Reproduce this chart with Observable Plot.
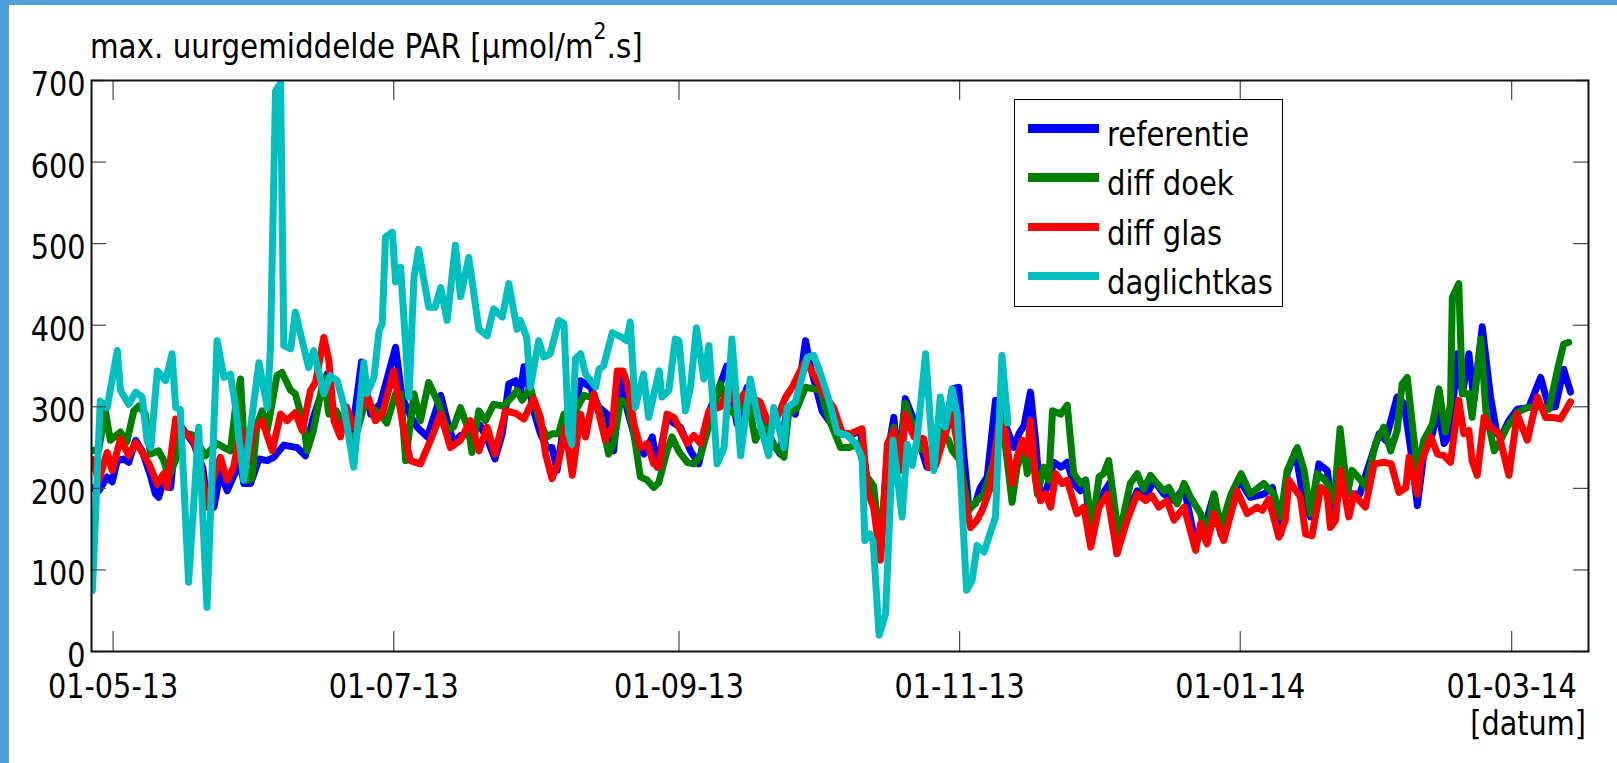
<!DOCTYPE html>
<html>
<head>
<meta charset="utf-8">
<script src="https://cdn.jsdelivr.net/npm/d3@7"></script>
<script src="https://cdn.jsdelivr.net/npm/@observablehq/plot@0.6"></script>
<style>
html,body{margin:0;padding:0;background:#fff;width:1617px;height:763px;overflow:hidden;font-family:"DejaVu Sans",sans-serif;}
#wrap{position:relative;width:1617px;height:763px;background:#fff;}
#chart{position:absolute;left:0;top:0;}
.bt{position:absolute;left:0;top:0;width:1617px;height:5px;background:#519fda;z-index:5;}
.bl{position:absolute;left:0;top:0;width:9px;height:763px;background:#519fda;z-index:5;}
.txt{position:absolute;white-space:nowrap;font-size:33px;line-height:33px;color:#000;}
#title{left:90px;top:30px;transform:scaleX(0.89);transform-origin:left top;}
#title .sup{font-size:23px;line-height:0;vertical-align:19px;}
#xlab{right:31px;top:707px;transform:scaleX(0.87);transform-origin:right top;}
#legend{position:absolute;left:1014px;top:99px;width:269px;height:208px;box-sizing:border-box;border:1.5px solid #000;background:#fff;z-index:3;}
.lrow{position:absolute;left:0;width:100%;height:49px;}
.lsw{position:absolute;left:13px;width:71px;height:8.5px;top:24px;}
.ltx{position:absolute;left:92px;top:18px;font-size:33px;line-height:33px;white-space:nowrap;transform:scaleX(0.88);transform-origin:left top;}
</style>
</head>
<body>
<div id="wrap">
  <div class="bt"></div><div class="bl"></div>
  <div id="chart"></div>
  <div id="title" class="txt">max. uurgemiddelde PAR [μmol/m<span class="sup">2</span>.s]</div>
  <div id="xlab" class="txt">[datum]</div>
  <div id="legend"></div>
</div>
<script>
// ---- data (day offsets from 01-05-2013, value) ----
const startDay = Date.UTC(2013, 4, 1);
const seriesNames = ["referentie", "diff doek", "diff glas", "daglichtkas"];
const seriesColors = ["#0000ff", "#008000", "#ff0000", "#00bfbf"];
const yTicks = [0, 100, 200, 300, 400, 500, 600, 700];
const xTickLabels = ["2013-05-01", "2013-07-01", "2013-09-01", "2013-11-01", "2014-01-01", "2014-03-01"];
const xRangeDays = [-4.7, 320.7];

const referentie = [[-4.6,201],[-3.1,197],[-1.3,214],[-0.2,208],[0.9,234],[2.3,236],[3.4,232],[4.9,259],[6.3,246],[8.1,216],[9.2,193],[9.9,189],[11,210],[12.5,201],[13.9,283],[15.5,270],[17.5,255],[19.5,225],[20.5,180],[21.9,177],[23.3,220],[24.8,197],[26.2,215],[27.7,230],[28.4,206],[29.9,206],[31.7,236],[33.5,234],[34.9,238],[37.1,253],[40,250],[41.8,240],[43.3,283],[45,312],[46.5,340],[48,290],[50,275],[52,270],[54,355],[56,291],[58.1,304],[61.4,373],[62.8,312],[64.5,290],[66.1,275],[68.3,263],[71.2,314],[72.6,283],[74.1,255],[75.5,265],[77.7,267],[79.8,277],[81.7,255],[83,236],[84.6,267],[86,328],[87.5,332],[88.5,316],[89.3,349],[90.4,324],[91.4,295],[92.9,267],[94.3,250],[95.4,250],[96.5,222],[98,279],[99.4,267],[101.6,332],[103.8,324],[105.5,300],[107.4,291],[108.8,246],[110.3,336],[111.8,295],[113.5,260],[115.4,242],[117.2,263],[118.3,226],[120.4,287],[121.8,280],[123.3,275],[125.5,246],[127.3,230],[129.9,299],[131.5,320],[133.4,350],[135.6,279],[137.8,324],[140.7,283],[142.9,259],[145,242],[146.5,299],[148.3,291],[150.5,381],[151.6,349],[154.1,295],[155.6,283],[158.1,267],[160.3,265],[162.4,271],[163.9,210],[165.3,185],[166.8,115],[168.3,240],[169.7,287],[170.8,226],[172.2,310],[174.1,283],[175.1,259],[176.9,226],[178.5,226],[180,259],[181.3,283],[182.4,322],[183.8,324],[184.9,242],[186,177],[187.4,181],[188.5,201],[190,214],[191.8,308],[193.6,283],[195.8,250],[196.9,267],[198,277],[199.4,318],[200.5,259],[201.6,185],[203,201],[204.5,232],[206,226],[207.4,232],[208.8,206],[210.3,197],[211.4,210],[212.5,132],[214.6,189],[216.8,208],[218.2,120],[220.4,169],[222.6,197],[224.8,193],[226.2,210],[228.4,193],[230.6,185],[232.8,201],[235.3,132],[237.5,157],[239.3,193],[240.8,144],[243,185],[244.8,210],[247.2,189],[250.1,193],[252,201],[253.8,144],[255.2,218],[257,246],[258.9,181],[260.3,165],[262.1,230],[263.9,222],[265.4,161],[266.8,218],[268.6,193],[271,193],[272.6,222],[275.2,267],[276.6,259],[279.1,312],[280.6,304],[282,250],[283.5,179],[284.9,242],[286.8,267],[287.9,299],[289.3,255],[290.7,267],[292.2,365],[293.3,316],[294.7,365],[295.8,308],[297.6,398],[299.4,312],[300.8,267],[302,267],[303.4,283],[305.2,297],[307.7,299],[310.3,336],[312.1,299],[313.5,300],[315.3,346],[316.8,318]];

const diffDoek = [[-4.6,246],[-3.1,248],[-1.7,295],[-0.6,259],[1.6,269],[3,257],[4.5,295],[5.6,301],[7,291],[8.1,242],[9.9,246],[11,234],[12.1,214],[13.6,235],[14.6,270],[17.5,265],[20,240],[22.6,255],[24.1,250],[25.5,246],[26.6,300],[27.7,334],[28.6,240],[29.1,210],[30.2,212],[31.3,279],[32.4,295],[33.5,271],[35.6,338],[36.7,342],[38.6,320],[39.6,316],[41.4,279],[42.2,246],[43.5,270],[45.8,336],[46.9,291],[48.5,295],[50.9,271],[52.3,255],[54.5,300],[56,301],[58.1,290],[59.5,280],[61.4,316],[62.5,316],[63.6,234],[65.4,316],[66.8,283],[68.6,330],[70.8,303],[72.6,271],[74,275],[75.5,299],[77.3,271],[78,244],[79.5,295],[80.9,283],[82.7,303],[84.9,301],[86.7,312],[87.8,320],[88.9,308],[90.7,324],[91.8,300],[92.9,279],[94.3,263],[95.4,267],[96.8,267],[98,291],[99.4,275],[100.9,299],[102.3,314],[103.8,312],[105.6,299],[106.6,271],[107.7,242],[108.8,255],[110.3,308],[111.8,304],[113.2,267],[114.6,214],[116.1,210],[117.5,201],[118.6,207],[120.4,246],[121.5,263],[123,245],[124.8,232],[126.2,230],[127.7,240],[129.8,283],[132,328],[133.5,300],[135,291],[136.5,300],[137.8,316],[139.6,259],[141.5,279],[144,250],[145.8,238],[146.8,291],[148.7,299],[150.5,324],[152.3,322],[153.8,320],[155.2,291],[158.1,250],[160,250],[161.8,255],[163.9,214],[165.3,203],[166.8,128],[168.3,242],[169.7,275],[170.8,226],[172.2,304],[173.7,279],[175.5,248],[177.3,246],[178.5,250],[179.8,271],[181.6,259],[182.4,246],[184,235],[186,173],[187.8,185],[189.3,193],[191.4,234],[192.9,287],[194,250],[195.4,183],[196.5,226],[198,250],[198.7,218],[199.8,250],[200.9,193],[202.3,226],[203.4,210],[204.2,295],[206,291],[207.4,302],[208.8,218],[210.3,206],[211.4,210],[212.8,152],[214.3,214],[215.3,218],[216.4,234],[218.6,140],[221.1,206],[222.6,218],[224,199],[225.5,216],[226.9,206],[228.4,197],[229.5,201],[231.3,181],[232.8,206],[234.2,189],[236.4,169],[237.5,136],[239.3,193],[240.8,152],[243,193],[245.2,218],[247.2,193],[250.1,206],[252.3,193],[253.8,165],[255.2,222],[257.4,250],[258.9,222],[260.3,169],[261.7,218],[263.5,210],[265.4,185],[266.7,273],[268.3,193],[269.3,222],[271.2,210],[272.3,201],[274.4,255],[276.2,275],[277.7,246],[279.1,271],[280.2,328],[281.3,336],[283.5,222],[284.9,259],[286.8,279],[288.2,322],[289.6,269],[290.7,304],[291.1,434],[292.5,451],[293.3,316],[294.7,316],[295.4,287],[297.3,383],[298.4,295],[300.2,246],[301.6,259],[303,275],[305.2,293],[307.4,299],[310,300],[312.1,297],[313.9,344],[315.3,377],[316.4,379]];

const diffGlas = [[-4.6,236],[-3.1,210],[-1.3,244],[-0.2,222],[1.6,261],[3.4,240],[4.9,256],[5.9,248],[7.8,230],[9.6,205],[11,218],[11.7,201],[13.6,285],[14.6,273],[17.5,259],[19,230],[20.4,177],[21.9,214],[23.3,238],[24.8,210],[26.2,226],[27.7,271],[29.1,230],[30.6,271],[32.4,283],[34.6,246],[36.4,291],[37.8,283],[39.6,293],[41.1,271],[42.9,320],[44,330],[45.8,385],[46.9,357],[48,283],[49.4,263],[50.7,300],[52.3,275],[55.2,316],[57,283],[58.5,291],[61,344],[63.2,271],[64.6,234],[66.8,230],[69,259],[71.2,291],[73.3,250],[75.5,259],[77.7,283],[79.5,246],[81.3,275],[83,242],[85.3,295],[87.5,292],[89.3,285],[91.4,310],[92.9,287],[94,242],[95.4,212],[96.9,234],[98.3,275],[99.8,216],[101.6,291],[102.7,263],[104.5,316],[107,259],[108.5,275],[109.6,344],[110.8,344],[111.8,328],[113.2,279],[114.6,250],[116.1,255],[117.5,230],[118.6,226],[120.4,291],[121.9,287],[124.8,255],[126.2,265],[127.7,255],[129.5,295],[132,300],[134,325],[135.5,300],[137.1,316],[140.6,306],[142.2,283],[143.6,277],[146.2,312],[147.6,324],[150.5,357],[153,332],[154.5,316],[156.6,299],[158.5,268],[160.3,267],[162.8,273],[163.9,197],[165.3,177],[166.8,112],[168.3,255],[169.7,271],[171.2,222],[172.2,291],[174.1,263],[176.2,261],[177.3,226],[178.8,228],[180.6,263],[182.4,291],[183.5,255],[184.9,193],[186.4,152],[187.8,161],[188.9,173],[190.7,201],[192.5,279],[193.9,271],[195.4,206],[196.5,238],[197.6,259],[198.7,242],[199.4,283],[200.5,210],[201.6,185],[202.7,193],[203.8,177],[204.9,218],[206.3,206],[207.4,210],[209.5,169],[211,177],[212.5,128],[214.3,177],[216.1,193],[218.2,120],[220.4,161],[222.6,193],[224.4,185],[225.8,191],[227.3,177],[229.1,185],[230.6,161],[232.8,177],[235.3,124],[236.4,157],[237.8,132],[239.3,169],[241.4,136],[244.3,197],[246.5,169],[248.7,177],[249.8,173],[251.2,187],[253.4,140],[254.8,161],[255.6,210],[258.1,189],[259.2,144],[260.6,142],[262.5,201],[263.9,193],[264.6,152],[265.7,161],[266.8,222],[268.6,165],[269.7,193],[272.2,177],[274.1,230],[276.2,232],[277.8,230],[279.5,195],[281,201],[281.7,238],[283.5,193],[284.2,230],[286.4,263],[287.9,242],[289.3,240],[290.7,232],[292.5,308],[293.6,267],[294.7,271],[295.4,234],[296.5,216],[298,287],[299.4,275],[301.2,267],[303.4,216],[305.2,291],[307.4,259],[309.6,312],[311.4,287],[313,287],[314.6,285],[316.8,306]];

const daglichtkas = [[-4.5,75],[-2.8,307],[-1.3,299],[0.9,369],[1.6,320],[3.4,303],[4.9,318],[6.3,312],[7.4,258],[8.2,250],[9.6,344],[11.4,332],[12.8,365],[13.6,299],[14.6,297],[16.4,85],[18.6,275],[20.4,54],[22.6,381],[24.1,336],[25.5,340],[26.6,300],[28.4,210],[31.7,354],[33.5,299],[34.2,373],[35.3,687],[36.4,697],[37.1,375],[38.6,371],[39.6,416],[41.1,381],[42.5,348],[43.6,369],[45.8,316],[47.2,338],[48.7,332],[50.1,303],[52.3,226],[54.5,354],[55.2,316],[56.7,336],[57.8,393],[58.5,402],[59.2,508],[60.7,514],[61.4,453],[62.5,471],[64.3,312],[65.4,459],[66.4,493],[68.6,422],[70,422],[71.2,446],[72.6,406],[74.4,498],[75.5,435],[77.3,483],[79.5,395],[81.3,387],[82.7,420],[84.6,410],[86,451],[87.8,395],[88.5,406],[89.9,385],[90.7,324],[92.5,381],[93.6,361],[95,365],[96.9,406],[98,402],[99,267],[99.7,254],[100.5,359],[101.6,365],[102.7,340],[104.9,324],[105.6,346],[106.6,350],[108.5,391],[110.6,385],[111.6,381],[112.4,404],[113.5,299],[115.3,340],[116.4,287],[118.7,344],[119.3,312],[120.8,320],[122.2,383],[123,381],[124.4,295],[125.5,324],[126.8,397],[128.4,334],[129.5,375],[131.3,230],[132.8,250],[134.5,383],[136.4,240],[138.5,334],[140,291],[142.5,240],[143.6,299],[145.8,250],[146.5,299],[148.3,306],[150.9,361],[152.3,363],[153.8,340],[155.6,308],[157.4,269],[159.6,265],[161.4,255],[162.8,238],[163.4,136],[164.5,144],[165.2,135],[166.5,20],[167.9,46],[169.5,259],[171.5,165],[172.6,254],[173.7,228],[174.8,263],[176.6,365],[178.4,222],[179.8,312],[180.9,275],[182.4,322],[183.5,290],[185.5,75],[186.7,87],[187.8,130],[189.3,122],[191.8,165],[193.2,363],[194.5,280]];

// ---- build ----
const toDate = d => new Date(startDay + d * 864e5);
const seriesData = [referentie, diffDoek, diffGlas, daglichtkas];
const rows = seriesData.flatMap((arr, i) => arr.map(([d, v]) => ({date: toDate(d), value: v, series: seriesNames[i]})));
const xTicks = xTickLabels.map(s => new Date(s + "T00:00:00Z"));
const tickStyle = {stroke: "#4a4a4a", strokeWidth: 1.2};

const plotW = 1617, plotH = 763;
const mL = 91, mR = 29, mT = 80, mB = 112;
const innerW = plotW - mL - mR, innerH = plotH - mT - mB;

const svg = Plot.plot({
  width: plotW, height: plotH,
  marginLeft: mL, marginRight: mR, marginTop: mT, marginBottom: mB,
  style: {fontFamily: "DejaVu Sans", fontSize: "33px", color: "#000", background: "transparent", overflow: "visible"},
  x: {type: "utc", domain: xRangeDays.map(toDate)},
  y: {domain: [0, 700]},
  color: {domain: seriesNames, range: seriesColors},
  marks: [
    Plot.line(rows, {x: "date", y: "value", z: "series", stroke: "series", strokeWidth: 7, strokeLinejoin: "round", strokeLinecap: "round", clip: true}),
    Plot.tickX(xTicks, {x: d => d, insetTop: innerH - 20, ...tickStyle}),
    Plot.tickX(xTicks, {x: d => d, insetBottom: innerH - 20, ...tickStyle}),
    Plot.tickY(yTicks, {y: d => d, insetRight: innerW - 15, ...tickStyle}),
    Plot.tickY(yTicks, {y: d => d, insetLeft: innerW - 15, ...tickStyle}),
    Plot.frame({stroke: "#111", strokeWidth: 2}),
    Plot.axisX(xTicks, {tickFormat: d3.utcFormat("%d-%m-%y"), tickSize: 0, tickPadding: 23, label: null}),
    Plot.axisY(yTicks, {tickSize: 0, tickPadding: 6, dy: 5, label: null})
  ]
});

// horizontally condensed glyphs like the reference
svg.querySelectorAll("text").forEach(t => {
  const tr = t.getAttribute("transform");
  if (tr) t.setAttribute("transform", tr + " scale(0.87,1)");
  else {
    const x = +t.getAttribute("x") || 0, y = +t.getAttribute("y") || 0;
    t.setAttribute("transform", `translate(${x},${y}) scale(0.87,1) translate(${-x},${-y})`);
  }
});
document.getElementById("chart").appendChild(svg);

// legend
const legend = document.getElementById("legend");
seriesNames.forEach((name, i) => {
  const row = document.createElement("div");
  row.className = "lrow";
  row.style.top = (i * 49.3) + "px";
  const sw = document.createElement("div");
  sw.className = "lsw";
  sw.style.background = seriesColors[i];
  const tx = document.createElement("div");
  tx.className = "ltx";
  tx.textContent = name;
  row.appendChild(sw); row.appendChild(tx);
  legend.appendChild(row);
});
</script>
</body>
</html>
